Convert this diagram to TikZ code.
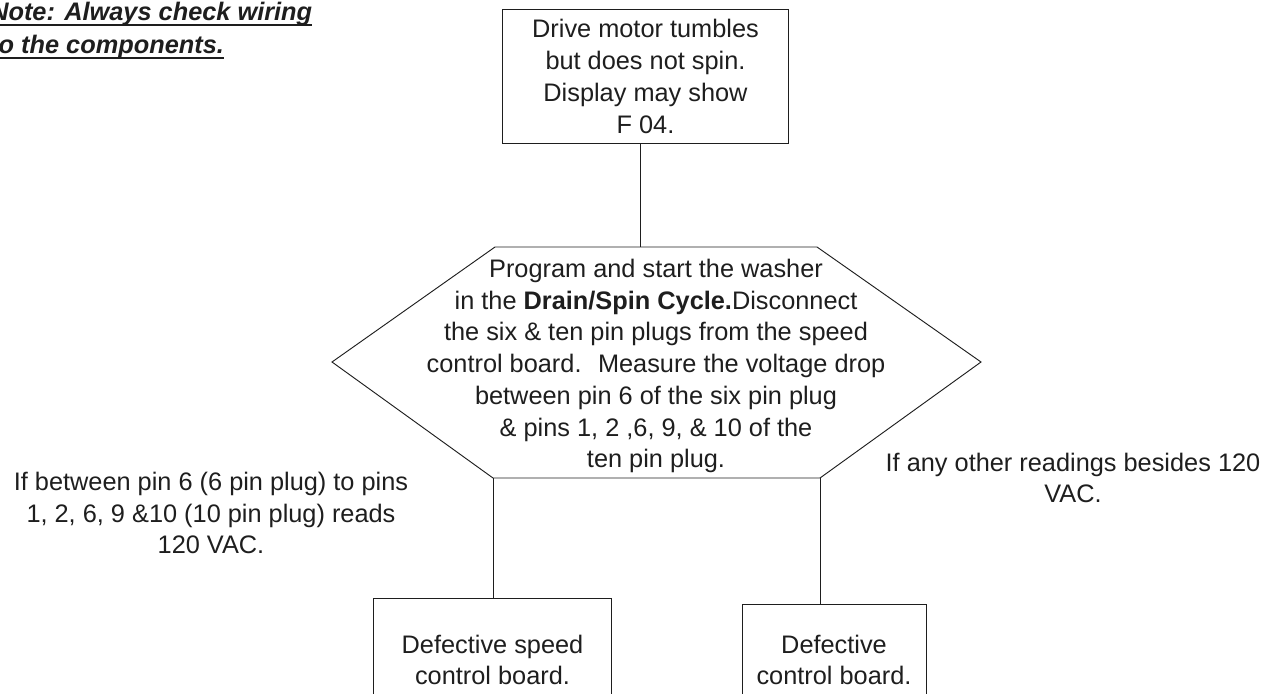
\documentclass[tikz,border=0pt]{standalone}
\usepackage{fontspec}
\setmainfont{Liberation Sans}
\definecolor{ink}{HTML}{1E1E1E}
\begin{document}
\begin{tikzpicture}[x=0.75pt,y=-0.75pt,
  every node/.style={font=\fontsize{19}{23.8}\selectfont, text=ink, inner sep=0pt, align=center},
  box/.style={draw=ink, line width=0.7pt},
  conn/.style={draw=ink, line width=0.7pt},
  notetext/.style={font=\fontsize{19}{24}\selectfont\bfseries\itshape, anchor=base west, align=left},
  uline/.style={draw=ink, line width=1.5pt}]
\useasboundingbox (0,0) rectangle (1280,693);

% note
\node[notetext] (note1) at (-10,20) {Note: Always check wiring};
\node[notetext] (note2) at (-10,53) {to the components.};
\draw[uline] ([yshift=-3.5pt]note1.base west) -- ([yshift=-3.5pt]note1.base east);
\draw[uline] ([yshift=-3.5pt]note2.base west) -- ([yshift=-3.5pt]note2.base east);

% top box
\node[box, minimum width=215pt, minimum height=100pt] (top) at (645.5,76.5)
  {Drive motor tumbles\\but does not spin.\\Display may show\\F 04.};

% hexagon
\coordinate (hL)  at (332,362);
\coordinate (hTL) at (495,247);
\coordinate (hTR) at (817,247);
\coordinate (hR)  at (981,362);
\coordinate (hBR) at (820,478);
\coordinate (hBL) at (493,478);
\coordinate (hTop) at (640,247);
\draw[conn] (hL) -- (hTL) -- (hTR) -- (hR) -- (hBR) -- (hBL) -- cycle;
\node (hex) at (656,366)
  {Program and start the washer\\
   in the \textbf{Drain/Spin Cycle.}Disconnect\\
   the six \& ten pin plugs from the speed\\
   control board.~ Measure the voltage drop\\
   between pin 6 of the six pin plug\\
   \& pins 1, 2 ,6, 9, \& 10 of the\\
   ten pin plug.};

\draw[conn] (top.south -| hTop) -- (hTop);

% bottom boxes
\node[box, minimum width=179pt, minimum height=93pt] (b1) at (492.5,660)
  {Defective speed\\control board.};
\node[box, minimum width=138pt, minimum height=84pt] (b2) at (834,660)
  {Defective\\control board.};
\draw[conn] (hBL) -- (b1.north -| hBL);
\draw[conn] (hBR) -- (b2.north -| hBR);

% branch labels
\node (lt) at (211,513)
  {If between pin 6 (6 pin plug) to pins\\1, 2, 6, 9 \&10 (10 pin plug) reads\\120 VAC.};
\node (rt) at (1073,478)
  {If any other readings besides 120\\VAC.};
\end{tikzpicture}
\end{document}
